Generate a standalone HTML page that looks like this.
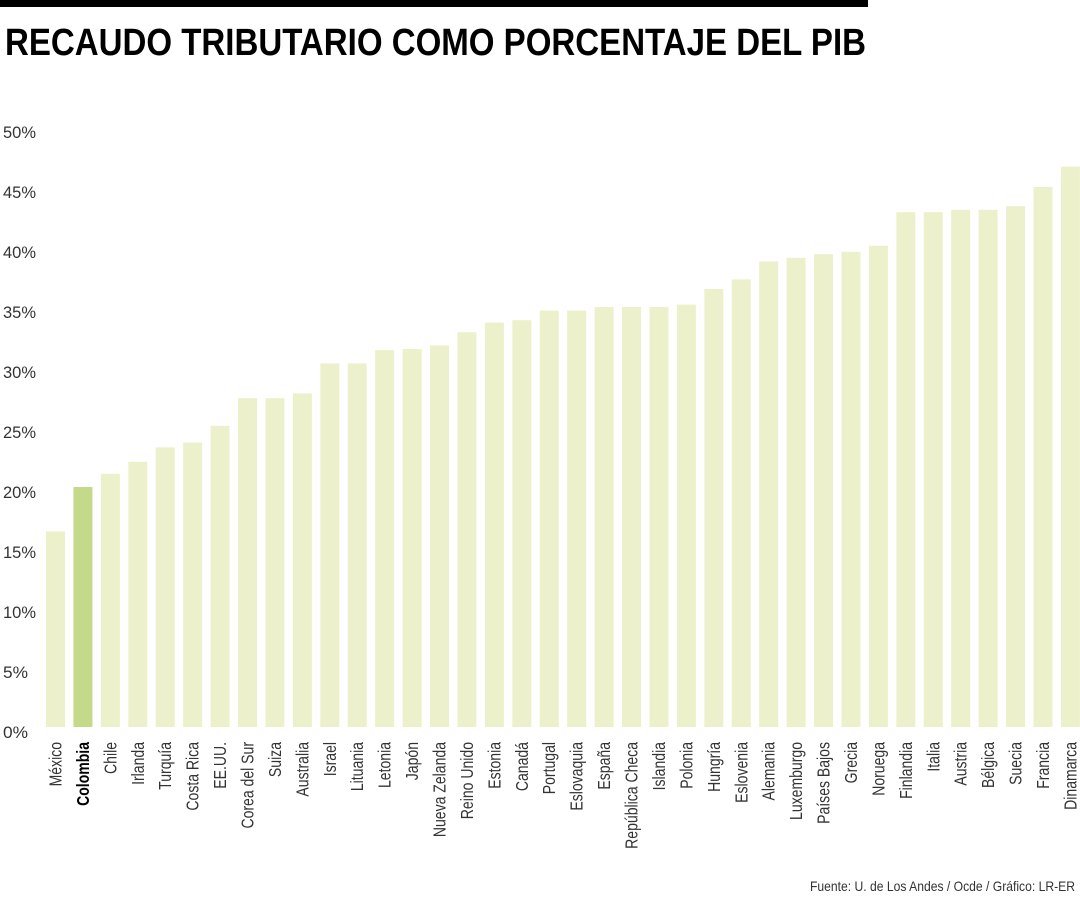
<!DOCTYPE html>
<html><head><meta charset="utf-8"><style>
html,body{margin:0;padding:0;background:#fff;}
svg{display:block;font-family:"Liberation Sans",sans-serif;}
</style></head><body>
<svg id="chart" width="1080" height="900" viewBox="0 0 1080 900">
<rect x="0" y="0" width="868" height="7" fill="#000"/>
<text x="5" y="55" font-size="38" font-weight="bold" textLength="861" lengthAdjust="spacingAndGlyphs" fill="#000">RECAUDO TRIBUTARIO COMO PORCENTAJE DEL PIB</text>
<text x="1075" y="891" font-size="14" text-anchor="end" textLength="265" lengthAdjust="spacingAndGlyphs" fill="#333">Fuente: U. de Los Andes / Ocde / Gráfico: LR-ER</text>
<g id="yaxis"></g>
<g id="bars"></g>
<g id="xlabels"></g>
</svg>
<script>
const categories=["México","Colombia","Chile","Irlanda","Turquía","Costa Rica","EE.UU.","Corea del Sur","Suiza","Australia","Israel","Lituania","Letonia","Japón","Nueva Zelanda","Reino Unido","Estonia","Canadá","Portugal","Eslovaquia","España","República Checa","Islandia","Polonia","Hungría","Eslovenia","Alemania","Luxemburgo","Países Bajos","Grecia","Noruega","Finlandia","Italia","Austria","Bélgica","Suecia","Francia","Dinamarca"];
const values=[16.3,20.0,21.1,22.1,23.3,23.7,25.1,27.4,27.4,27.8,30.3,30.3,31.4,31.5,31.8,32.9,33.7,33.9,34.7,34.7,35.0,35.0,35.0,35.2,36.5,37.3,38.8,39.1,39.4,39.6,40.1,42.9,42.9,43.1,43.1,43.4,45.0,46.7];
const yTicks=[0,5,10,15,20,25,30,35,40,45,50];
const highlight="Colombia";
const NS="http://www.w3.org/2000/svg";
const base=727, pxPer=12, x0=46, pitch=27.43, bw=19;
const yScale=v=>base-v*pxPer;
const xScale=i=>x0+i*pitch;
const yg=document.getElementById('yaxis'),bg=document.getElementById('bars'),xg=document.getElementById('xlabels');
yTicks.forEach(t=>{
  const e=document.createElementNS(NS,'text');
  
  
  e.setAttribute('x',3);e.setAttribute('y',yScale(t)+11);
  e.setAttribute('font-size','17');e.setAttribute('fill','#333');
  e.setAttribute('textLength',t<10?25:33);e.setAttribute('lengthAdjust','spacingAndGlyphs');
  e.textContent=t+'%';yg.appendChild(e);
});
categories.forEach((c,i)=>{
  const v=values[i],hl=c===highlight;
  const r=document.createElementNS(NS,'rect');
  
  
  r.setAttribute('x',xScale(i));r.setAttribute('y',yScale(v));
  r.setAttribute('width',bw);r.setAttribute('height',v*pxPer);
  r.setAttribute('fill',hl?'#c5d98a':'#ecf1cb');
  bg.appendChild(r);
  const t=document.createElementNS(NS,'text');
  
  
  const cx=xScale(i)+bw/2+6;
  t.setAttribute('transform','translate('+cx+',742) rotate(-90) scale(0.78,1)');
  t.setAttribute('text-anchor','end');
  t.setAttribute('font-size','18');
  t.setAttribute('fill',hl?'#000':'#333');
  if(hl)t.setAttribute('font-weight','bold');
  t.textContent=c;xg.appendChild(t);
});
</script>
</body></html>
